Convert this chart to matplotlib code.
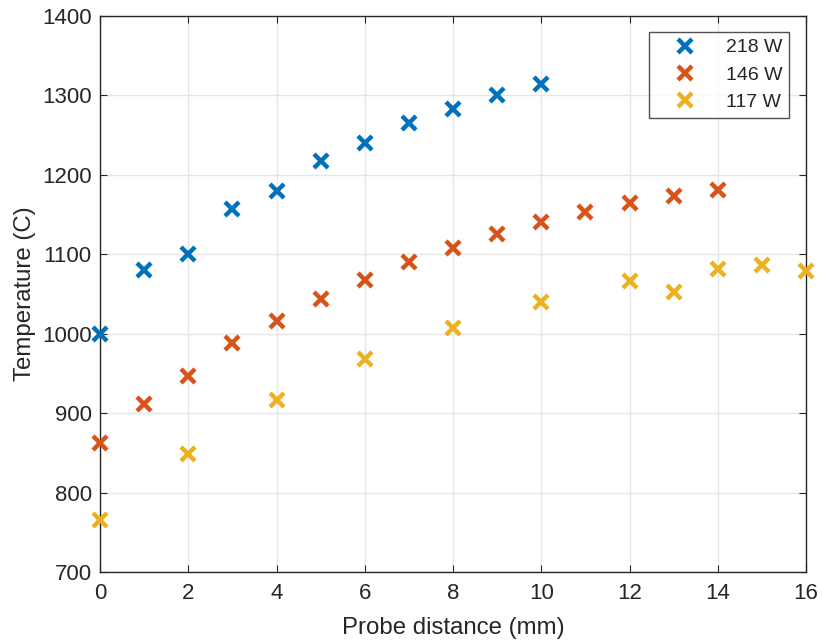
import matplotlib
matplotlib.use("Agg")
import matplotlib.pyplot as plt

plt.rcParams['font.family'] = ['Liberation Sans', 'DejaVu Sans']

x_218 = [0, 1, 2, 3, 4, 5, 6, 7, 8, 9, 10]
t_218 = [1000, 1080, 1100, 1157, 1180, 1217, 1240, 1265, 1283, 1300, 1315]

x_146 = [0, 1, 2, 3, 4, 5, 6, 7, 8, 9, 10, 11, 12, 13, 14]
t_146 = [862, 912, 947, 988, 1016, 1044, 1068, 1090, 1108, 1125, 1141, 1153, 1165, 1174, 1181]

x_117 = [0, 2, 4, 6, 8, 10, 12, 13, 14, 15, 16]
t_117 = [765, 848, 916, 968, 1007, 1040, 1066, 1053, 1081, 1086, 1079]

labels = ['218 W', '146 W', '117 W']
colors = ['#0072BD', '#D95319', '#EDB120']

fig = plt.figure(figsize=(8.22, 6.43), dpi=100)
ax = fig.add_axes([100/822, 1-572/643, 706/822, 556/643])

for xs, ts, lab, c in zip([x_218, x_146, x_117], [t_218, t_146, t_117], labels, colors):
    ax.plot(xs, ts, linestyle='none', marker='x', markersize=10, markeredgewidth=3.2,
            color=c, label=lab, clip_on=False, zorder=3)

ax.set_xlim(0, 16)
ax.set_ylim(700, 1400)
ax.set_xticks(range(0, 17, 2))
ax.set_yticks(range(700, 1401, 100))
ax.grid(True, color='#e6e6e6', linewidth=1)
ax.set_axisbelow(True)
for s in ax.spines.values():
    s.set_color('#262626')
    s.set_linewidth(1)
ax.tick_params(direction='in', length=5, colors='#262626', labelsize=16, pad=6, top=True, right=True)
ax.tick_params(axis='x', pad=8)
ax.set_xlabel('Probe distance (mm)', fontsize=17.3, color='#262626', labelpad=9)
ax.set_ylabel('Temperature (C)', fontsize=17.3, color='#262626', labelpad=4)

leg = ax.legend(loc='upper right', bbox_to_anchor=((789-100)/706, (572-32)/556), borderaxespad=0,
                fontsize=14, frameon=True, fancybox=False, edgecolor='#262626',
                handletextpad=0.6, borderpad=0.35, labelspacing=0.5, handlelength=3.0)
leg.get_frame().set_linewidth(1)
for t in leg.get_texts():
    t.set_color('#262626')

fig.savefig('out.png', dpi=100)
